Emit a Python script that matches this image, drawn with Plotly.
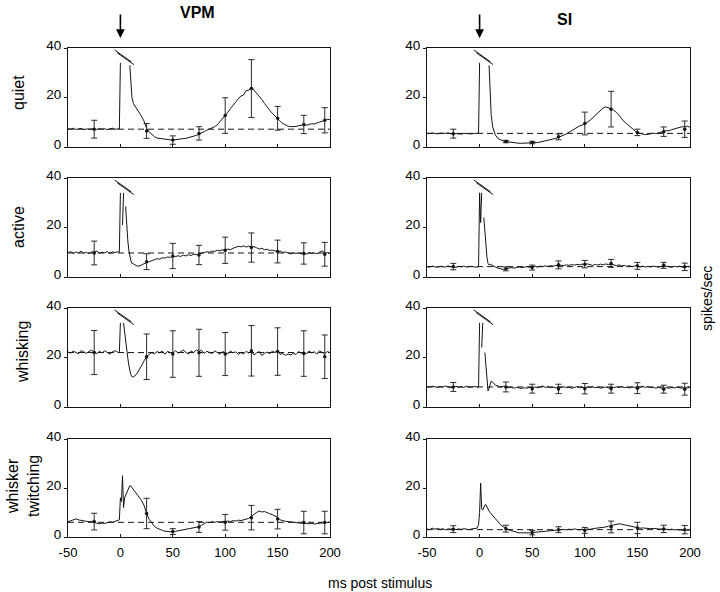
import numpy as np
import plotly.graph_objects as go

# time bins (ms): 2.5 ms bins, 1 ms bins around the stimulus
t_ms = np.concatenate([np.arange(-50, -2.4, 2.5), np.arange(-1, 12, 1.0), np.arange(12.5, 200.1, 2.5)])

# ---------------- VPM traces (spikes/sec) ----------------
q_vpm = [7.4, 7.2, 7.6, 7.1, 7.3, 7.5, 7.0, 7.3, 7.2, 7.4, 7.3, 7.1, 7.5, 7.2, 7.4, 7.0, 7.3, 7.6, 7.2, 7.3,
         7.3, 34, None, None, None, None, None, None, None, None, 33, 26, 20,
         17.5, 16.0, 14.0, 12.5, 10.5, 7.5, 6.0, 5.0, 4.2, 3.6,
         3.4, 3.2, 3.0, 3.1, 2.9, 2.8, 3.0, 2.9, 3.2, 3.4,
         3.5, 3.8, 4.0, 4.2, 4.7, 5.2, 5.6, 6.2, 6.8, 7.2,
         7.6, 8.2, 9.0, 10.2, 11.3, 12.5, 14.0, 15.5, 17.0, 18.4,
         19.5, 20.6, 21.0, 22.8, 22.9, 24.2, 23.0, 22.0, 20.5, 19.2,
         17.6, 16.0, 14.8, 13.6, 12.4, 11.6, 10.4, 9.5, 8.8, 8.4,
         8.2, 8.1, 8.3, 8.6, 8.9, 9.0, 8.8, 9.2, 9.4, 9.3,
         9.8, 10.1, 10.4, 10.8, 11.2, 11.0]
a_vpm = [9.8, 10.3, 9.5, 10.1, 9.7, 10.4, 9.6, 10.0, 9.4, 10.2, 9.9, 10.5, 9.6, 10.0, 9.8, 10.3, 9.5, 10.1, 9.9, 10.2,
         10.0, 34, None, 21, 34, None, 28.5, 20, 15, 11, 8, 6.5, 5.5,
         5.3, 4.6, 4.4, 4.8, 5.4, 5.9, 6.2, 6.6, 7.0, 7.4,
         7.2, 7.8, 7.6, 8.1, 7.9, 8.4, 8.2, 8.6, 8.3, 8.8,
         8.5, 9.0, 8.7, 9.2, 9.0, 9.4, 9.6, 9.9, 10.2, 10.0,
         10.5, 10.3, 10.8, 10.6, 11.0, 10.8, 11.3, 11.0, 11.6, 12.0,
         12.4, 12.2, 12.6, 12.1, 12.5, 11.9, 12.3, 11.8, 11.3, 11.6,
         11.0, 11.2, 10.7, 10.9, 10.4, 10.2, 10.5, 9.9, 10.1, 9.6,
         9.3, 9.8, 9.5, 9.7, 9.4, 9.6, 9.3, 9.8, 9.5, 9.7,
         9.4, 10.0, 10.6, 9.6, 9.9, 9.5]
w_vpm = [22.3, 21.8, 22.6, 22.0, 21.5, 22.8, 22.1, 21.7, 22.4, 23.0, 22.2, 21.6, 22.5, 21.9, 22.7, 22.0, 21.4, 22.3, 22.8, 22.1,
         22.0, 34, None, None, 34, 30, 27, 24, 20, 17, 14.5, 13, 12.3,
         12.2, 13.0, 14.6, 16.5, 18.6, 20.4, 21.2, 22.0, 21.5, 22.4,
         21.9, 22.6, 21.3, 22.5, 22.0, 21.6, 22.8, 21.8, 22.3, 23.0,
         22.1, 21.4, 22.6, 22.0, 23.1, 22.4, 22.9, 21.7, 22.5, 22.2,
         21.6, 22.7, 22.0, 21.3, 22.4, 22.1, 21.5, 22.6, 21.9, 22.3,
         21.2, 22.0, 21.4, 22.5, 21.8, 22.7, 21.0, 21.9, 22.4, 20.8,
         21.7, 22.2, 21.5, 22.6, 22.0, 22.9, 21.3, 21.6, 20.9, 21.4,
         21.0, 21.7, 21.2, 22.4, 21.8, 22.2, 21.5, 22.6, 21.9, 22.3,
         21.4, 22.7, 22.1, 21.5, 22.4, 22.0]
t_vpm = [6.2, 6.5, 6.9, 7.4, 7.0, 6.8, 6.6, 6.7, 6.2, 6.4, 5.9, 5.6, 5.4, 5.7, 5.5, 5.9, 6.2, 6.0, 6.5, 6.8,
         7.0, 16.0, 14.5, 25.0, 12.0, 16.0, 17.0, 17.5, 18.5, 19.5, 21.0, 20.8, 20.2,
         19.5, 17.8, 16.8, 15.0, 13.0, 9.5, 7.2, 5.5, 4.3, 3.6,
         3.0, 2.7, 2.4, 2.2, 2.0, 2.0, 2.3, 2.5, 2.8, 3.0,
         3.2, 3.4, 3.6, 3.8, 3.9, 4.2, 4.8, 5.6, 6.1, 5.9,
         6.2, 6.0, 6.3, 6.1, 6.4, 6.2, 6.5, 6.3, 6.7, 6.5,
         6.9, 6.7, 7.0, 7.2, 7.6, 8.5, 9.4, 10.0, 10.6, 10.2,
         10.4, 9.8, 9.5, 9.1, 8.6, 8.0, 7.0, 6.6, 6.4, 6.3,
         6.1, 5.9, 6.0, 5.8, 5.6, 5.7, 5.5, 5.4, 5.6, 5.3,
         5.5, 5.6, 5.8, 5.9, 6.0, 6.1]

# ---------------- SI traces (spikes/sec) ----------------
q_si = [5.6, 5.4, 5.7, 5.5, 5.3, 5.6, 5.4, 5.5, 5.7, 5.3, 5.5, 5.4, 5.6, 5.2, 5.5, 5.4, 5.6, 5.3, 5.5, 5.4,
        5.5, 34, None, None, None, None, None, None, None, None, 33, 21, 13,
        8.0, 4.8, 3.4, 2.8, 2.4, 2.2, 2.0, 1.8, 1.7, 1.6,
        1.5, 1.5, 1.5, 1.6, 1.5, 1.6, 1.7, 1.8, 2.0, 2.2,
        2.4, 2.7, 3.0, 3.2, 3.5, 3.9, 4.3, 4.8, 5.3, 6.0,
        6.6, 7.5, 8.0, 8.5, 8.9, 9.3, 10.0, 10.8, 11.8, 13.0,
        14.2, 15.0, 15.8, 16.2, 15.9, 15.5, 14.8, 14.0, 12.8, 11.4,
        10.2, 9.3, 8.4, 7.3, 6.3, 5.7, 5.5, 5.2, 5.0, 5.1,
        5.3, 5.6, 5.4, 5.8, 6.1, 6.3, 6.6, 6.5, 7.0, 7.3,
        7.5, 7.8, 8.2, 8.1, 8.4, 8.0]
a_si = [4.2, 4.0, 4.4, 4.1, 3.9, 4.3, 4.2, 4.0, 4.5, 4.1, 4.2, 3.9, 4.3, 4.1, 4.4, 4.0, 4.2, 4.3, 4.0, 4.2,
        4.1, 34, 22, 34, None, 24, 17, 14, 8, 5.5, 4.8, 5.2, 4.9,
        4.6, 4.0, 3.6, 3.3, 3.1, 3.3, 3.5, 3.8, 3.6, 3.9,
        4.1, 3.8, 4.0, 4.2, 3.9, 4.1, 4.3, 4.0, 4.4, 4.2,
        4.5, 4.3, 4.6, 4.4, 4.7, 4.5, 4.8, 4.6, 4.9, 4.7,
        5.0, 4.8, 5.1, 4.9, 5.2, 4.9, 5.3, 5.0, 4.7, 5.1,
        4.8, 5.2, 4.9, 5.3, 5.0, 5.2, 4.8, 4.6, 4.9, 4.5,
        4.7, 4.3, 4.6, 4.2, 4.5, 4.3, 4.1, 4.4, 4.0, 4.3,
        4.1, 4.4, 4.2, 4.0, 4.3, 4.1, 4.4, 4.2, 3.9, 4.3,
        4.1, 4.4, 4.2, 3.8, 4.3, 4.1]
w_si = [8.2, 8.0, 8.4, 8.1, 7.9, 8.3, 8.0, 8.5, 8.2, 7.8, 8.1, 8.3, 8.0, 8.2, 7.9, 8.4, 8.1, 8.0, 8.3, 8.1,
        8.0, 34, None, 24, 34, None, 22, 16, 9, 6.5, 7.5, 9.5, 10.5,
        10.0, 8.8, 8.5, 8.0, 8.4, 8.1, 7.8, 8.0, 7.6, 7.9,
        7.7, 7.5, 7.8, 7.6, 7.9, 7.7, 8.1, 7.8, 8.0, 8.5,
        7.9, 8.2, 7.8, 8.0, 7.7, 8.1, 7.9, 8.2, 7.8, 8.0,
        7.6, 7.9, 8.2, 7.8, 8.0, 7.7, 8.1, 7.9, 8.2, 7.8,
        8.0, 7.6, 7.9, 8.1, 7.7, 8.0, 7.8, 8.1, 7.9, 8.3,
        7.8, 8.0, 7.7, 8.1, 7.9, 8.2, 8.0, 8.4, 7.9, 8.2,
        7.8, 8.0, 7.6, 7.9, 7.7, 7.5, 7.8, 7.6, 7.9, 7.7,
        8.0, 7.8, 7.6, 7.9, 7.7, 8.0]
t_si = [3.3, 3.0, 3.6, 3.2, 3.5, 3.1, 3.4, 2.9, 3.3, 3.2, 3.5, 3.0, 3.3, 3.1, 3.4, 3.2, 3.0, 3.3, 3.4, 3.6,
        5.0, 10.0, 22.0, 11.5, 11.0, 12.0, 13.0, 13.2, 12.2, 11.5, 10.6, 10.0, 9.5,
        8.8, 7.2, 6.0, 5.0, 4.2, 3.5, 3.0, 2.6, 2.2, 1.9,
        1.7, 1.7, 1.6, 1.8, 1.7, 1.8, 1.9, 2.0, 2.2, 2.3,
        2.5, 2.4, 2.7, 2.6, 2.9, 3.0, 2.8, 3.1, 2.9, 3.2,
        3.0, 3.3, 3.1, 2.9, 3.2, 3.0, 3.3, 3.1, 3.4, 3.5,
        3.7, 3.6, 3.9, 4.1, 4.4, 4.6, 4.8, 5.1, 5.4, 5.2,
        5.0, 4.8, 4.5, 4.2, 3.9, 3.8, 3.6, 3.7, 3.5, 3.6,
        3.4, 3.5, 3.3, 3.4, 3.2, 3.3, 3.1, 3.0, 3.2, 2.9,
        3.0, 2.8, 2.9, 2.7, 2.8, 2.9]

# ---------------- error bars (mean +/- s.e.) ----------------
err_t = [-25, 25, 50, 75, 100, 125, 150, 175, 195]
q_vpm_m = [7.2, 6.5, 2.8, 5.5, 12.7, 23.6, 11.6, 9.1, 10.8]
q_vpm_e = [3.6, 3.0, 1.7, 2.7, 7.2, 11.7, 4.8, 3.7, 5.1]
a_vpm_m = [9.7, 6.2, 8.5, 8.9, 10.8, 11.9, 10.3, 9.5, 9.2]
a_vpm_e = [4.8, 3.2, 5.1, 3.9, 5.3, 5.9, 4.6, 4.3, 4.8]
w_vpm_m = [22.0, 20.3, 21.4, 21.9, 21.4, 22.7, 22.4, 21.6, 20.3]
w_vpm_e = [8.9, 9.2, 9.4, 9.5, 8.7, 10.2, 9.6, 9.2, 8.8]
t_vpm_m = [6.3, 9.6, 2.2, 4.1, 6.0, 7.9, 7.3, 5.9, 5.9]
t_vpm_e = [3.4, 6.2, 1.2, 2.2, 3.2, 5.0, 4.0, 4.6, 4.6]
q_si_m = [5.4, 2.2, 1.8, 4.1, 9.5, 15.3, 5.9, 6.2, 7.2]
q_si_e = [1.8, 0.5, 0.5, 1.2, 4.6, 7.2, 1.3, 1.9, 3.3]
a_si_m = [4.2, 3.3, 3.8, 4.9, 5.2, 5.5, 4.5, 4.7, 4.1]
a_si_e = [1.3, 0.8, 1.0, 1.6, 1.5, 1.6, 1.4, 1.2, 1.5]
w_si_m = [8.1, 8.1, 7.4, 7.3, 7.4, 7.4, 7.6, 7.2, 7.2]
w_si_e = [1.8, 2.0, 1.8, 1.9, 2.1, 1.8, 2.2, 1.6, 2.4]
t_si_m = [3.2, 3.4, 1.8, 3.0, 2.7, 4.1, 3.7, 3.3, 3.0]
t_si_e = [1.4, 1.4, 0.9, 1.2, 1.2, 2.4, 2.3, 1.5, 1.7]

# pre-stimulus baselines (dashed)
base_vpm = [7.2, 9.7, 22.0, 6.0]
base_si = [5.5, 4.2, 8.1, 3.0]

conditions = ["quiet", "active", "whisking", "whisker<br>twitching"]
areas = ["VPM", "SI"]
x_ticks = [-50, 0, 50, 100, 150, 200]
x_tick_text = ["-50", "0", "50", "100", "150", "200"]
y_ticks = [0, 20, 40]

panels = [
    [(q_vpm, q_vpm_m, q_vpm_e, base_vpm[0]), (q_si, q_si_m, q_si_e, base_si[0])],
    [(a_vpm, a_vpm_m, a_vpm_e, base_vpm[1]), (a_si, a_si_m, a_si_e, base_si[1])],
    [(w_vpm, w_vpm_m, w_vpm_e, base_vpm[2]), (w_si, w_si_m, w_si_e, base_si[2])],
    [(t_vpm, t_vpm_m, t_vpm_e, base_vpm[3]), (t_si, t_si_m, t_si_e, base_si[3])],
]

W, H = 720, 592
col_px = [(68, 330), (427, 690)]
row_px = [(48, 147), (178, 277), (308, 407), (439, 537)]
FONT = "Liberation Sans, Arial, Helvetica, sans-serif"
INK = "#151515"

fig = go.Figure()
layout = {}
shapes = []
annotations = []

for r in range(4):
    for c in range(2):
        k = r * 2 + c + 1
        xa = "x" if k == 1 else f"x{k}"
        ya = "y" if k == 1 else f"y{k}"
        trace, m, e, base = panels[r][c]
        fig.add_trace(go.Scatter(x=t_ms, y=trace, mode="lines", connectgaps=False,
                                 line=dict(color=INK, width=1), xaxis=xa, yaxis=ya,
                                 showlegend=False, hoverinfo="skip"))
        fig.add_trace(go.Scatter(x=err_t, y=m, mode="markers",
                                 marker=dict(color=INK, size=3.5),
                                 error_y=dict(type="data", array=e, visible=True,
                                              color="#2a2a2a", thickness=1, width=3),
                                 xaxis=xa, yaxis=ya, showlegend=False, hoverinfo="skip"))
        shapes.append(dict(type="line", xref=f"{xa} domain", yref=ya, x0=0, x1=1,
                           y0=base, y1=base, line=dict(color=INK, width=1, dash="6px,4px"), layer="below"))
        if r < 3:
            # axis-break marks (double slash) above the clipped stimulus response
            for dx, dy in [(0, 0), (2.3, -1.1)]:
                shapes.append(dict(type="line", xref=xa, yref=ya,
                                   x0=-5.5 + dx, y0=39.2 + dy, x1=10.5 + dx, y1=34.4 + dy,
                                   line=dict(color=INK, width=1)))
        x0, x1 = col_px[c]
        y0, y1 = row_px[r]
        layout["xaxis" if k == 1 else f"xaxis{k}"] = dict(
            domain=[x0 / W, x1 / W], range=[-50, 200], anchor=ya, automargin=False,
            showline=True, mirror=True, linecolor=INK, linewidth=1,
            ticks="inside", ticklen=3, tickcolor=INK, tickvals=x_ticks, ticktext=x_tick_text,
            ticklabelstandoff=3,
            showticklabels=(r == 3), showgrid=False, zeroline=False,
            tickfont=dict(family=FONT, size=13, color="#000"))
        layout["yaxis" if k == 1 else f"yaxis{k}"] = dict(
            domain=[1 - y1 / H, 1 - y0 / H], range=[0, 40], anchor=xa, automargin=False,
            showline=True, mirror=True, linecolor=INK, linewidth=1,
            ticks="outside", ticklen=3, tickcolor=INK, tickvals=y_ticks,
            ticklabelshift=-3,
            showgrid=False, zeroline=False,
            tickfont=dict(family=FONT, size=13.5, color="#000"))

# row labels
row_label_y = [93, 227, 352, 486]
row_label_x = [18, 18, 22, 23]
for lab, yy, xx in zip(conditions, row_label_y, row_label_x):
    annotations.append(dict(text=lab, x=xx / W, y=1 - yy / H, xref="paper", yref="paper",
                            showarrow=False, textangle=-90, xanchor="center", yanchor="middle",
                            font=dict(family=FONT, size=16, color="#000")))

# column titles
annotations.append(dict(text="<b>VPM</b>", x=197 / W, y=1 - 13 / H, xref="paper", yref="paper",
                        xanchor="center", yanchor="middle",
                        showarrow=False, font=dict(family=FONT, size=16, color="#000")))
annotations.append(dict(text="<b>SI</b>", x=564 / W, y=1 - 19 / H, xref="paper", yref="paper",
                        xanchor="center", yanchor="middle",
                        showarrow=False, font=dict(family=FONT, size=16, color="#000")))

# stimulus arrows
for xa in ["x", "x2"]:
    annotations.append(dict(text="", x=0, y=1 - 38 / H, xref=xa, yref="paper",
                            showarrow=True, ax=0, ay=-25, arrowhead=2, arrowsize=1.1,
                            arrowwidth=1.6, arrowcolor="#000"))

annotations.append(dict(text="spikes/sec", x=707 / W, y=1 - 299 / H, xref="paper", yref="paper",
                        xanchor="center", yanchor="middle",
                        showarrow=False, textangle=-90, font=dict(family=FONT, size=14, color="#000")))
annotations.append(dict(text="ms post stimulus", x=380 / W, y=1 - 583 / H, xref="paper", yref="paper",
                        xanchor="center", yanchor="middle",
                        showarrow=False, font=dict(family=FONT, size=14, color="#000")))

fig.update_layout(width=W, height=H, margin=dict(l=0, r=0, t=0, b=0, pad=0, autoexpand=False),
                  template="none", font=dict(family=FONT, color="#000"),
                  paper_bgcolor="white", plot_bgcolor="white",
                  shapes=shapes, annotations=annotations, **layout)

fig.write_html("out.html", config={"displayModeBar": False},
               post_script="document.body.style.margin='0px';")
